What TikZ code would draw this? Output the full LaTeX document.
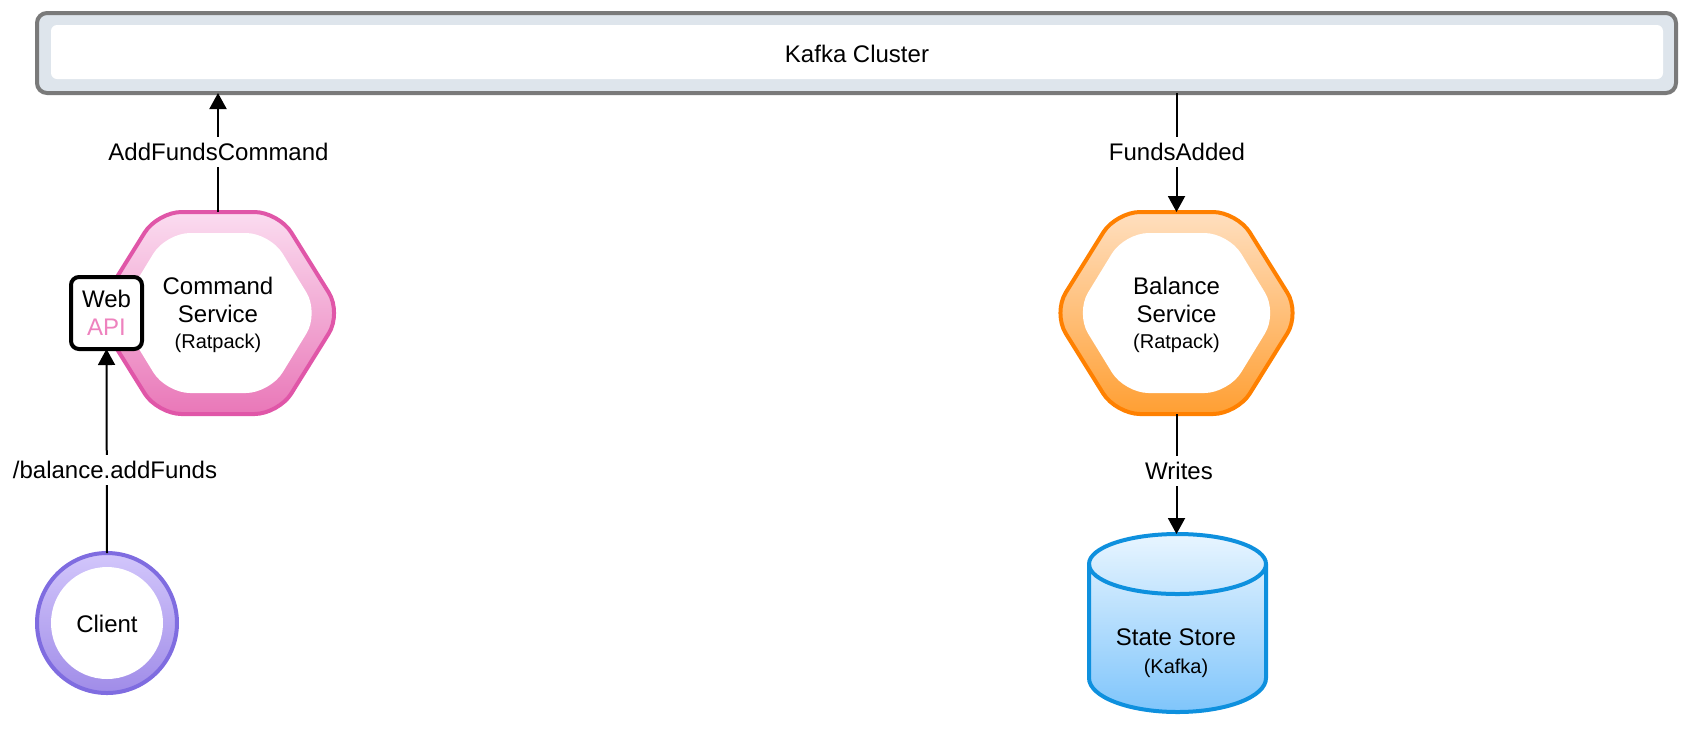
\documentclass[tikz,border=0pt]{standalone}
\usepackage{fontspec}
\setmainfont{Liberation Sans}
\usetikzlibrary{arrows.meta}
\definecolor{kafkafill}{HTML}{DEE5EC}
\definecolor{kafkaline}{HTML}{7A7A7A}
\definecolor{pinkline}{HTML}{E056A8}
\definecolor{pinktop}{HTML}{FBDCF0}
\definecolor{pinkbottom}{HTML}{E977B8}
\definecolor{apipink}{HTML}{EE82BE}
\definecolor{orangeline}{HTML}{FF8000}
\definecolor{orangetop}{HTML}{FFDFBF}
\definecolor{orangebottom}{HTML}{FF9F33}
\definecolor{purpleline}{HTML}{7F6CE0}
\definecolor{purpletop}{HTML}{D2C6FB}
\definecolor{purplebottom}{HTML}{A08CE8}
\definecolor{blueline}{HTML}{0E90DE}
\definecolor{bluetop}{HTML}{E8F5FF}
\definecolor{bluebottom}{HTML}{7FC5FB}

\begin{document}
\begin{tikzpicture}[scale=0.17573]
	\tikzstyle{every node}+=[inner sep=0pt, outer sep=0pt, align=center, font=\fontsize{12}{14}\selectfont]
	\tikzstyle{conn}=[black, line width=1pt, -{Triangle[length=8pt,width=8.5pt]}]
	\tikzstyle{lbl}=[fill=white, inner xsep=0pt, inner ysep=3pt]
	\tikzstyle{hexring}=[line width=2pt, rounded corners=12pt]
	\tikzstyle{hexhole}=[white, rounded corners=12pt]
	\tikzstyle{hexbox}=[minimum width=116pt, minimum height=101pt]
	\useasboundingbox (0,0) rectangle (168.8,-74.2);

	\node (kafka) [draw=kafkaline, fill=kafkafill, line width=2pt, rounded corners=5pt, minimum width=819.5pt, minimum height=40pt] at (85.65,-5.3) {};
	\node (kafkatext) [fill=white, rounded corners=3pt, minimum width=806pt, minimum height=27pt] at (85.7,-5.2) {\raisebox{-5.3pt}[0pt][0pt]{Kafka Cluster}};

	\draw [hexring, draw=pinkline, top color=pinktop, bottom color=pinkbottom] (15.75,-21.2) -- (27.85,-21.2) -- (34.15,-31.3) -- (27.85,-41.4) -- (15.75,-41.4) -- (9.45,-31.3) -- cycle;
	\fill [hexhole] (16.6,-23.3) -- (27,-23.3) -- (31.9,-31.3) -- (27,-39.3) -- (16.6,-39.3) -- (11.7,-31.3) -- cycle;
	\node (command) [hexbox] at (21.8,-31.3) {};
	\node (commandtext) at (21.8,-31.5) {Command\\Service\\[-1pt]{\fontsize{10}{12}\selectfont (Ratpack)}};

	\node (web) [draw=black, fill=white, line width=2pt, rounded corners=4pt, minimum width=35.5pt, minimum height=36pt] at (10.65,-31.3) {Web\\\textcolor{apipink}{API}};

	\draw [hexring, draw=orangeline, top color=orangetop, bottom color=orangebottom] (111.6,-21.2) -- (123.7,-21.2) -- (130,-31.3) -- (123.7,-41.4) -- (111.6,-41.4) -- (105.3,-31.3) -- cycle;
	\fill [hexhole] (112.45,-23.3) -- (122.85,-23.3) -- (127.75,-31.3) -- (122.85,-39.3) -- (112.45,-39.3) -- (107.55,-31.3) -- cycle;
	\node (balance) [hexbox] at (117.65,-31.3) {};
	\node (balancetext) at (117.65,-31.5) {Balance\\Service\\[-1pt]{\fontsize{10}{12}\selectfont (Ratpack)}};

	\node (client) [circle, draw=purpleline, line width=2pt, top color=purpletop, bottom color=purplebottom, minimum size=70pt] at (10.7,-62.3) {};
	\node (clienttext) [circle, fill=white, minimum size=56pt] at (10.7,-62.3) {\raisebox{-4.8pt}[0pt][0pt]{Client}};

	\draw [line width=2pt, draw=blueline, top color=bluetop, bottom color=bluebottom] (108.9,-56.4) arc[start angle=180, end angle=0, x radius=8.85, y radius=3] -- (126.6,-67.8) arc[start angle=0, end angle=-180, x radius=8.85, y radius=3.4] -- cycle;
	\draw [line width=2pt, draw=blueline] (108.9,-56.4) arc[start angle=180, end angle=360, x radius=8.85, y radius=3];
	\node (store) [minimum width=88.5pt, minimum height=89pt] at (117.65,-62.3) {};
	\node (storetext) at (117.6,-65.3) {State Store\\[0pt]{\fontsize{10}{12}\selectfont (Kafka)}};

	\draw [conn] (command.north) -- (command.north |- kafka.south);
	\draw [conn] (balance.north |- kafka.south) -- (balance.north);
	\draw [conn] (balance.south) -- (store.north);
	\draw [conn] (client.north) -- (web.south);

	\node (addlbl) [lbl] at (21.85,-15.2) {AddFundsCommand};
	\node (fundslbl) [lbl] at (117.7,-15.2) {FundsAdded};
	\node (writeslbl) [lbl] at (117.9,-47.1) {Writes};
	\node (apilbl) [lbl] at (11.5,-47) {/balance.addFunds};
\end{tikzpicture}
\end{document}
